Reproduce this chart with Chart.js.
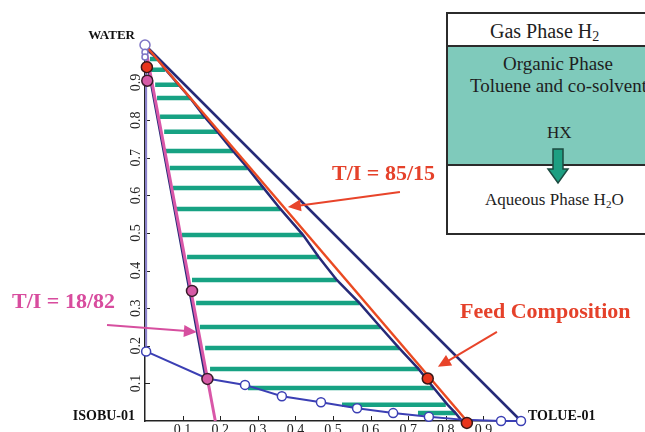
<!DOCTYPE html>
<html>
<head>
<meta charset="utf-8">
<script src="https://cdn.jsdelivr.net/npm/chart.js@4.4.0/dist/chart.umd.min.js"></script>
<style>
html, body { margin: 0; padding: 0; background: #fff; overflow: hidden; }
#wrap { position: relative; width: 645px; height: 432px; overflow: hidden; }
#c { position: absolute; left: 0; top: 0; }
.serif { font-family: "Liberation Serif", "Times New Roman", serif; color: #1e1e1e; }
.box { position: absolute; left: 446px; top: 12px; width: 206px; height: 223px; border: 2px solid #2b2b2b; box-sizing: border-box; background: #fff; }
.gas { position: absolute; left: 0; top: 0; right: 0; height: 31px; border-bottom: 2px solid #2b2b2b; }
.org { position: absolute; left: 0; top: 33px; right: 0; height: 117px; background: #7fcabb; border-bottom: 2px solid #2b2b2b; }
.t { position: absolute; white-space: nowrap; line-height: 1; }
</style>
</head>
<body>
<div id="wrap">
  <canvas id="c" width="645" height="432"></canvas>
  <div class="box"><div class="gas"></div><div class="org"></div></div>
  <div class="t serif" style="left:490px; top:21px; font-size:20px;">Gas Phase H<sub style="font-size:14px; vertical-align:-3px;">2</sub></div>
  <div class="t serif" style="left:503px; top:54px; font-size:19px;">Organic Phase</div>
  <div class="t serif" style="left:470px; top:76px; font-size:19px;">Toluene and co-solvent</div>
  <div class="t serif" style="left:547px; top:124px; font-size:17px;">HX</div>
  <svg style="position:absolute; left:546px; top:148px;" width="24" height="38">
    <path d="M7 1 L17 1 L17 21 L22 21 L12 35 L2 21 L7 21 Z" fill="#1d9f82" stroke="#1c4a40" stroke-width="1.5"/>
  </svg>
  <div class="t serif" style="left:485px; top:191px; font-size:17px;">Aqueous Phase H<sub style="font-size:11px; vertical-align:-3px;">2</sub>O</div>
</div>
<script>
// axis ticks (both axes)
var tickVals = [0.1, 0.2, 0.3, 0.4, 0.5, 0.6, 0.7, 0.8, 0.9];

// tie lines: water fraction and the two end compositions (toluene fraction)
var tieY = [0.963, 0.934, 0.894, 0.859, 0.809, 0.769, 0.718, 0.673, 0.620, 0.564, 0.495, 0.436, 0.375, 0.314, 0.250, 0.194, 0.138, 0.088, 0.043, 0.021];
var tieL = [0.013, 0.013, 0.027, 0.032, 0.040, 0.051, 0.050, 0.066, 0.074, 0.080, 0.098, 0.112, 0.125, 0.136, 0.146, 0.160, 0.173, 0.274, 0.524, 0.726];
var tieR = [0.033, 0.053, 0.090, 0.120, 0.158, 0.193, 0.234, 0.273, 0.315, 0.360, 0.420, 0.462, 0.510, 0.570, 0.626, 0.676, 0.728, 0.768, 0.800, 0.826];

// binodal, organic side
var innerX = [0.008, 0.033, 0.055, 0.090, 0.120, 0.158, 0.193, 0.234, 0.273, 0.315, 0.360, 0.420, 0.462, 0.510, 0.570, 0.626, 0.676, 0.728, 0.768, 0.805, 0.826, 0.843];
var innerY = [0.985, 0.963, 0.934, 0.894, 0.859, 0.809, 0.769, 0.718, 0.673, 0.620, 0.564, 0.495, 0.436, 0.375, 0.314, 0.250, 0.194, 0.138, 0.088, 0.043, 0.021, 0.0];

// binodal, water side
var leftX = [0.002, 0.027, 0.081, 0.160];
var leftY = [0.975, 0.84, 0.55, 0.12];

// lower envelope with open circles
var envX = [0.003, 0.165, 0.266, 0.364, 0.468, 0.564, 0.660, 0.755, 0.850, 0.947, 1.0];
var envY = [0.185, 0.113, 0.096, 0.066, 0.050, 0.034, 0.021, 0.011, 0.003, 0.0, 0.0];
var envOpen = [true, false, true, true, true, true, true, true, false, true, true];

// triangle edges
var edgeX = [0.0, 1.0];
var edgeY = [1.0, 0.0];
var sideX = [0.003, 0.003];
var sideY = [0.185, 1.0];
var topX = [0.0, 0.0, 0.0];
var topY = [1.0, 0.981, 0.968];

// dilution lines from water vertex, T/I = 85/15 and 18/82
var redX = [0.0, 0.856];
var redY = [1.0, 0.0];
var pinkX = [0.0, 0.187];
var pinkY = [1.0, 0.0];

// marked compositions
var redDotX = [0.005, 0.752, 0.856];
var redDotY = [0.941, 0.113, -0.005];
var pinkDotX = [0.006, 0.125, 0.166];
var pinkDotY = [0.905, 0.346, 0.112];

function pts(xs, ys) {
  return xs.map(function (x, i) { return { x: x, y: ys[i] }; });
}

var tieData = [];
tieY.forEach(function (y, i) {
  tieData.push({ x: tieL[i], y: y }, { x: tieR[i], y: y }, { x: null, y: null });
});

var serif = '"Liberation Serif", "Times New Roman", serif';

function arrow(ctx, x1, y1, x2, y2, color) {
  var a = Math.atan2(y2 - y1, x2 - x1);
  var len = 13, half = 6;
  ctx.save();
  ctx.strokeStyle = color;
  ctx.fillStyle = color;
  ctx.lineWidth = 2;
  ctx.beginPath();
  ctx.moveTo(x1, y1);
  ctx.lineTo(x2 - Math.cos(a) * len * 0.8, y2 - Math.sin(a) * len * 0.8);
  ctx.stroke();
  ctx.beginPath();
  ctx.moveTo(x2, y2);
  ctx.lineTo(x2 - Math.cos(a) * len - Math.sin(a) * half, y2 - Math.sin(a) * len + Math.cos(a) * half);
  ctx.lineTo(x2 - Math.cos(a) * len + Math.sin(a) * half, y2 - Math.sin(a) * len - Math.cos(a) * half);
  ctx.closePath();
  ctx.fill();
  ctx.restore();
}

// annotation arrows, in data coordinates
var arrows = [
  { from: [0.678, 0.609], to: [0.380, 0.569], color: '#e8442a' },
  { from: [-0.101, 0.255], to: [0.138, 0.237], color: '#d64f9f' },
  { from: [0.936, 0.237], to: [0.779, 0.144], color: '#e8442a' }
];

var decor = {
  id: 'decor',
  beforeDatasetsDraw: function (chart) {
    var ctx = chart.ctx, xs = chart.scales.x, ys = chart.scales.y;
    var bottom = chart.chartArea.bottom, left = chart.chartArea.left;
    ctx.save();
    ctx.strokeStyle = '#222';
    ctx.lineWidth = 1;
    tickVals.forEach(function (v) {
      var px = Math.round(xs.getPixelForValue(v)) + 0.5;
      ctx.beginPath(); ctx.moveTo(px, bottom); ctx.lineTo(px, bottom - 5); ctx.stroke();
      var py = Math.round(ys.getPixelForValue(v)) + 0.5;
      ctx.beginPath(); ctx.moveTo(left, py); ctx.lineTo(left + 5, py); ctx.stroke();
    });
    ctx.restore();
  },
  afterDraw: function (chart) {
    var ctx = chart.ctx, xs = chart.scales.x, ys = chart.scales.y;
    arrows.forEach(function (a) {
      arrow(ctx, xs.getPixelForValue(a.from[0]), ys.getPixelForValue(a.from[1]),
        xs.getPixelForValue(a.to[0]), ys.getPixelForValue(a.to[1]), a.color);
    });
    ctx.save();
    ctx.textBaseline = 'middle';
    ctx.fillStyle = '#111';
    ctx.font = 'bold 13px ' + serif;
    ctx.textAlign = 'right';
    ctx.fillText('WATER', 135, 36);
    ctx.font = 'bold 14px ' + serif;
    ctx.fillText('ISOBU-01', 135, 416);
    ctx.textAlign = 'left';
    ctx.fillText('TOLUE-01', 528, 416);
    ctx.font = 'bold 22px ' + serif;
    ctx.fillStyle = '#e5412a';
    ctx.fillText('T/I = 85/15', 332, 174);
    ctx.fillText('Feed Composition', 460, 312);
    ctx.fillStyle = '#d84c9e';
    ctx.fillText('T/I = 18/82', 12, 302);
    ctx.restore();
  }
};

function lineSet(data, color, width, order) {
  return {
    data: data, showLine: true, borderColor: color, borderWidth: width,
    pointRadius: 0, order: order, clip: false, tension: 0
  };
}

var envSet = lineSet(pts(envX, envY), '#3b3fb4', 2, 3);
envSet.pointRadius = envOpen.map(function (o) { return o ? 4.5 : 0; });
envSet.pointBackgroundColor = '#fff';
envSet.pointBorderColor = '#3b3fb4';
envSet.pointBorderWidth = 1.5;

var ticksFont = { family: serif, size: 14 };

new Chart(document.getElementById('c'), {
  type: 'scatter',
  data: {
    datasets: [
      lineSet(tieData, '#17a283', 4.5, 10),
      lineSet(pts(edgeX, edgeY), '#262a78', 2.5, 8),
      lineSet(pts(innerX, innerY), '#262a78', 2.5, 7),
      lineSet(pts(leftX, leftY), '#262a78', 2.5, 6),
      lineSet(pts(redX, redY), '#ea4a22', 2.5, 5),
      lineSet(pts(pinkX, pinkY), '#d957a8', 3, 4),
      lineSet(pts(sideX, sideY), '#8a80cc', 2, 4),
      envSet,
      {
        data: pts(topX, topY), showLine: false, order: 2, clip: false,
        pointRadius: [5, 3, 3], pointBackgroundColor: '#fff',
        pointBorderColor: '#7d74c4', pointBorderWidth: 1.5
      },
      {
        data: pts(redDotX, redDotY), showLine: false, order: 1, clip: false,
        pointRadius: 5.5, pointBackgroundColor: '#e8341c',
        pointBorderColor: '#3a1818', pointBorderWidth: 1.5
      },
      {
        data: pts(pinkDotX, pinkDotY), showLine: false, order: 1, clip: false,
        pointRadius: 5.5, pointBackgroundColor: '#d65aa6',
        pointBorderColor: '#3a1a2a', pointBorderWidth: 1.5
      }
    ]
  },
  options: {
    responsive: false,
    animation: false,
    devicePixelRatio: 1,
    layout: { padding: { left: 0, top: 45, right: 124, bottom: 0 } },
    plugins: { legend: { display: false }, tooltip: { enabled: false } },
    scales: {
      x: {
        type: 'linear', min: 0, max: 1,
        grid: { display: false, drawTicks: false },
        border: { display: true, color: '#222', width: 1.5 },
        ticks: {
          font: ticksFont, color: '#222', padding: 1, maxRotation: 0, autoSkip: false,
          callback: function (v) { return v.toFixed(1); }
        },
        afterBuildTicks: function (s) { s.ticks = tickVals.map(function (v) { return { value: v }; }); },
        afterFit: function (s) { s.height = 11; }
      },
      y: {
        type: 'linear', min: 0, max: 1,
        grid: { display: false, drawTicks: false },
        border: { display: true, color: '#222', width: 1.5 },
        ticks: {
          font: ticksFont, color: '#222', padding: 0, minRotation: 90, maxRotation: 90,
          crossAlign: 'center', autoSkip: false,
          callback: function (v) { return v.toFixed(1); }
        },
        afterBuildTicks: function (s) { s.ticks = tickVals.map(function (v) { return { value: v }; }); },
        afterFit: function (s) { s.width = 145; }
      }
    }
  },
  plugins: [decor]
});
</script>
</body>
</html>
